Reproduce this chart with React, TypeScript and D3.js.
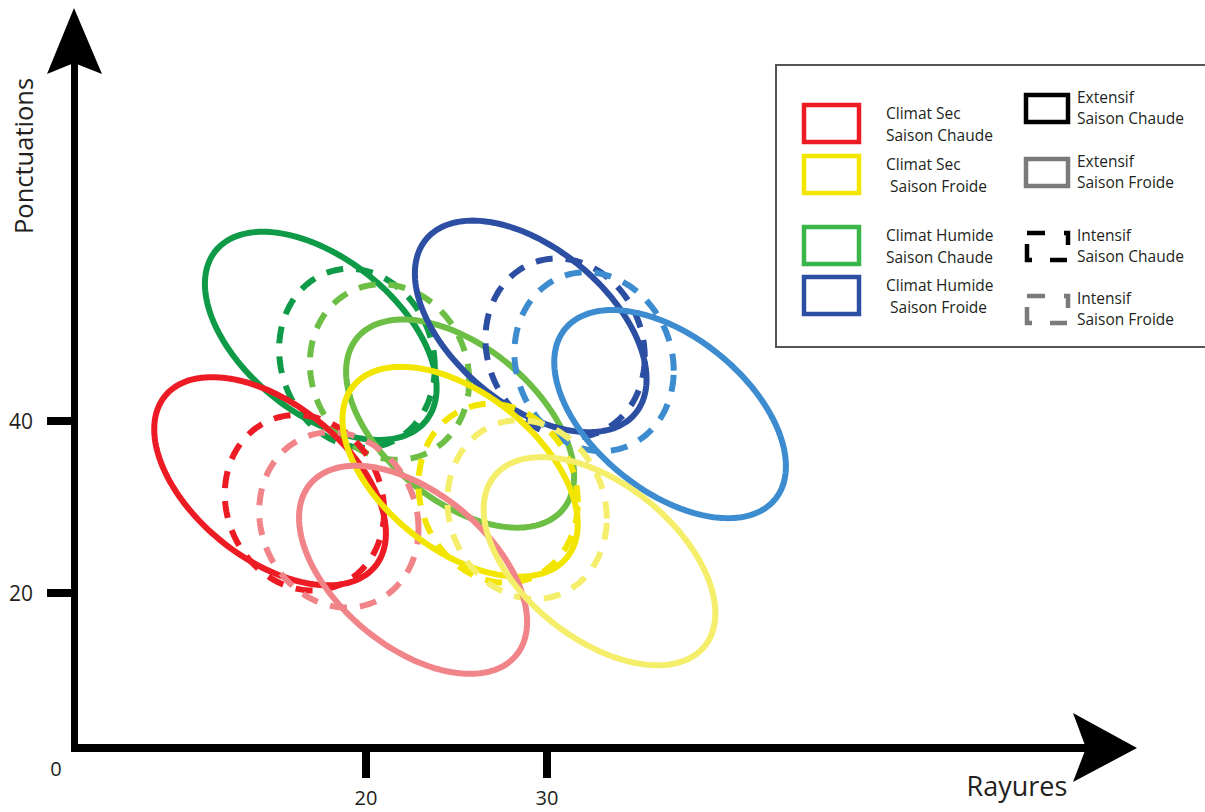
import React from "react";
import * as d3 from "d3";

// ---- Data (Rayures = x, Ponctuations = y) ----
const xTicks = [20, 30];
const yTicks = [20, 40];
// ellipse centres
const centerX = [14.7, 16.6, 22.6, 18.5, 17.5, 19.5, 25.2, 21.3, 25.2, 27.3, 32.9, 28.9, 29.1, 31.0, 36.8, 32.6];
const centerY = [33.0, 30.5, 22.7, 28.5, 49.9, 47.3, 39.7, 45.7, 34.1, 31.6, 23.7, 29.7, 51.0, 48.5, 40.8, 46.9];
// spread (semi-extent) along each axis and correlation
const spreadX = [6.4, 4.4, 6.3, 4.4, 6.4, 4.3, 6.3, 4.4, 6.5, 4.4, 6.4, 4.4, 6.4, 4.4, 6.4, 4.4];
const spreadY = [12.1, 10.2, 12.1, 10.2, 12.1, 10.4, 12.1, 10.2, 12.2, 10.4, 12.1, 10.4, 12.3, 10.4, 12.1, 10.4];
const corr = [-0.5, -0.1, -0.5, -0.1, -0.5, -0.1, -0.5, -0.1, -0.5, -0.1, -0.5, -0.1, -0.5, -0.1, -0.5, -0.1];
const ellipseNames = [
  "Sec Chaude Extensif", "Sec Chaude Intensif", "Sec Froide(p) Extensif", "Sec Froide(p) Intensif",
  "Humide Chaude Extensif", "Humide Chaude Intensif", "Humide Chaude(l) Extensif", "Humide Chaude(l) Intensif",
  "Sec Froide Extensif", "Sec Froide Intensif", "Sec Froide(l) Extensif", "Sec Froide(l) Intensif",
  "Humide Froide Extensif", "Humide Froide Intensif", "Humide Froide(l) Extensif", "Humide Froide(l) Intensif",
];
const ellipseColors = [
  "#ed1c24", "#ed1c24", "#f08489", "#f08489",
  "#0f9a48", "#0f9a48", "#6cbe45", "#6cbe45",
  "#f2e600", "#f2e600", "#f5ee6b", "#f5ee6b",
  "#2c4fa3", "#2c4fa3", "#3c8ccf", "#3c8ccf",
];
const ellipseDashed = [false, true, false, true, false, true, false, true, false, true, false, true, false, true, false, true];
const drawOrder = [4, 5, 7, 6, 12, 13, 15, 14, 0, 1, 3, 8, 9, 11, 2, 10];

const legendClimate = [
  { l1: "Climat Sec", l2: "Saison Chaude", color: "#ed1c24" },
  { l1: "Climat Sec", l2: " Saison Froide", color: "#f2e600" },
  { l1: "Climat Humide", l2: "Saison Chaude", color: "#39b54a" },
  { l1: "Climat Humide", l2: " Saison Froide", color: "#2c4fa3" },
];
const legendMode = [
  { l1: "Extensif", l2: "Saison Chaude", color: "#000000", dashed: false },
  { l1: "Extensif", l2: "Saison Froide", color: "#7a7a7a", dashed: false },
  { l1: "Intensif", l2: "Saison Chaude", color: "#000000", dashed: true },
  { l1: "Intensif", l2: "Saison Froide", color: "#7a7a7a", dashed: true },
];

const W = 1205;
const H = 812;
const FONT = "'Open Sans', 'Noto Sans', sans-serif";

export default function App() {
  const x = d3.scaleLinear().domain([20, 30]).range([366, 547]);
  const y = d3.scaleLinear().domain([20, 40]).range([593, 421]);

  const ellipsePath = (i: number) => {
    const rho = corr[i];
    const k = Math.sqrt(1 - rho * rho);
    const pts: [number, number][] = d3.range(0, 180).map((j) => {
      const t = (j / 180) * Math.PI * 2;
      const vx = centerX[i] + spreadX[i] * Math.cos(t);
      const vy = centerY[i] + spreadY[i] * (rho * Math.cos(t) + k * Math.sin(t));
      return [x(vx), y(vy)];
    });
    return d3.line().curve(d3.curveLinearClosed)(pts) as string;
  };

  const axX = 74.5;
  const axY = 748;

  return (
    <svg width={W} height={H} style={{ position: "absolute", left: 0, top: 0, background: "#fff" }}>
      <rect x={0} y={0} width={W} height={H} fill="#fff" />
      {/* ellipses */}
      <g fill="none" strokeWidth={6}>
        {drawOrder.map((i) => (
          <path
            key={ellipseNames[i]}
            d={ellipsePath(i)}
            stroke={ellipseColors[i]}
            strokeDasharray={ellipseDashed[i] ? "17 13" : undefined}
          />
        ))}
      </g>

      {/* axes */}
      <line x1={axX} y1={60} x2={axX} y2={axY + 4} stroke="#000" strokeWidth={7} />
      <line x1={axX - 3.5} y1={axY} x2={1090} y2={axY} stroke="#000" strokeWidth={8} />
      <path d={`M74,8 L47,74 L74,63 L102,74 Z`} fill="#000" />
      <path d={`M1137,748 L1073,713 L1086,748 L1073,782 Z`} fill="#000" />

      {xTicks.map((v) => (
        <g key={"xt" + v}>
          <line x1={x(v)} x2={x(v)} y1={axY} y2={778} stroke="#000" strokeWidth={8} />
          <text x={x(v)} y={805} textAnchor="middle" fontFamily={FONT} fontSize={20} fill="#231f20">
            {v}
          </text>
        </g>
      ))}
      {yTicks.map((v) => (
        <g key={"yt" + v}>
          <line x1={47} x2={axX} y1={y(v)} y2={y(v)} stroke="#000" strokeWidth={8} />
          <text x={21} y={y(v) + 7.5} textAnchor="middle" fontFamily={FONT} fontSize={21} fill="#231f20">
            {v}
          </text>
        </g>
      ))}
      <text x={56} y={776} textAnchor="middle" fontFamily={FONT} fontSize={20} fill="#231f20">0</text>

      <text
        transform="translate(33,156) rotate(-90)"
        textAnchor="middle"
        fontFamily={FONT}
        fontSize={25.5}
        fill="#231f20"
      >
        Ponctuations
      </text>
      <text x={1017} y={796} textAnchor="middle" fontFamily={FONT} fontSize={27} fill="#231f20">
        Rayures
      </text>

      {/* legend */}
      <rect x={776} y={65} width={440} height={282} fill="#fff" stroke="#555" strokeWidth={2} />
      {legendClimate.map((d, i) => {
        const ry = [103, 154, 225, 275][i];
        return (
          <g key={"lc" + i}>
            <rect x={804} y={ry + 2} width={55} height={37} fill="none" stroke={d.color} strokeWidth={4.5} />
            <text x={886} y={ry + 16} fontFamily={FONT} fontSize={15.5} fill="#231f20">{d.l1}</text>
            <text x={886} y={ry + 38} fontFamily={FONT} fontSize={15.5} fill="#231f20" style={{ whiteSpace: "pre" }}>{d.l2}</text>
          </g>
        );
      })}
      {legendMode.map((d, i) => {
        const ry = [93, 157, 231, 294][i];
        return (
          <g key={"lm" + i}>
            {d.dashed ? (
              <rect x={1027} y={ry + 2} width={41} height={27} fill="none" stroke={d.color} strokeWidth={4.5}
                strokeDasharray="18 19 16 16 17 18 21 15" />
            ) : (
              <rect x={1026} y={ry + 2} width={42} height={27} fill="none" stroke={d.color} strokeWidth={4.5} />
            )}
            <text x={1077} y={ry + 10} fontFamily={FONT} fontSize={15.5} fill="#231f20">{d.l1}</text>
            <text x={1077} y={ry + 31} fontFamily={FONT} fontSize={15.5} fill="#231f20">{d.l2}</text>
          </g>
        );
      })}
    </svg>
  );
}
